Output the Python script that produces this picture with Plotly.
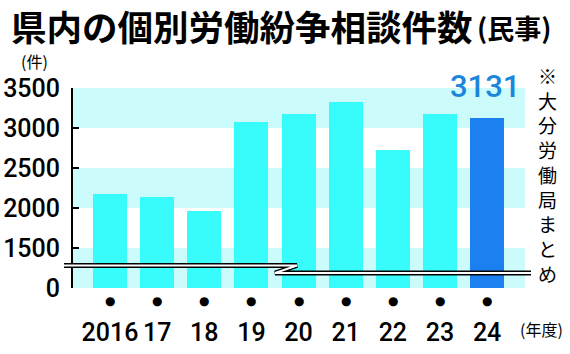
import plotly.graph_objects as go

categories = ["2016", "17", "18", "19", "20", "21", "22", "23", "24"]
values = [2175, 2140, 1960, 3075, 3175, 3330, 2725, 3175, 3131]
tick_values = [0, 1500, 2000, 2500, 3000, 3500]
tick_labels = ["0", "1500", "2000", "2500", "3000", "3500"]
note_text = "※大分労働局まとめ"

CYAN = "#38fbfb"
BLUE = "#1d80f0"
BAND = "#ccfbfb"
NUM_FONT = "Roboto"
JP_FONT = "Noto Sans CJK JP"


def disp(v):
    # broken axis: 0-1500 squeezed into one 500-unit step
    return v / 3.0 if v < 1500 else v - 1000.0


xs = list(range(len(categories)))
ys = [disp(v) for v in values]
colors = [CYAN] * (len(values) - 1) + [BLUE]

fig = go.Figure()
fig.add_trace(go.Bar(x=xs, y=ys, marker=dict(color=colors, line=dict(width=0)),
                     width=0.72, hoverinfo="skip"))

# background bands
for lo, hi in [(0, 1500), (2000, 2500), (3000, 3500)]:
    fig.add_shape(type="rect", xref="paper", yref="y", x0=0, x1=0.989,
                  y0=disp(lo), y1=disp(hi), fillcolor=BAND, line=dict(width=0),
                  layer="below")

# axis break mark (double line with zigzag)
def px(x):
    return (x - 73) / 457.0

def py(y):
    return (288 - y) / 200.0

path = (f"M {px(64)},{py(265.5)} L {px(297)},{py(265.5)} "
        f"L {px(275)},{py(273)} L {px(531)},{py(273)}")
fig.add_shape(type="path", xref="paper", yref="paper", path=path,
              line=dict(color="black", width=5))
fig.add_shape(type="path", xref="paper", yref="paper", path=path,
              line=dict(color="white", width=2))

# category dots below the axis
for x in xs:
    fig.add_annotation(xref="x", yref="paper", x=x, y=py(300.5), text="●",
                       showarrow=False, font=dict(size=12, color="black", family="DejaVu Sans"),
                       xanchor="center", yanchor="middle")

ann = []
ann.append(dict(text="<b>県内の個別労働紛争相談件数</b>", x=9, y=26, font=dict(size=35.5, family=JP_FONT, color="black", weight=900),
                xanchor="left"))
ann.append(dict(text="<b>(民事)</b>", x=475, y=27, font=dict(size=27, family=JP_FONT, color="black", weight=700),
                xanchor="left"))
ann.append(dict(text="(件)", x=34, y=61, font=dict(size=16, family=JP_FONT, color="black")))
ann.append(dict(text=f"{values[-1]}", x=485, y=86, font=dict(size=31, family=NUM_FONT, color="#1b86dc", weight=500)))
ann.append(dict(text="(年度)", x=541, y=329, font=dict(size=16, family=JP_FONT, color="black")))
ann.append(dict(text="<br>".join(note_text), x=547, y=174, font=dict(size=19, family=JP_FONT, color="black")))

for a in ann:
    fig.add_annotation(xref="paper", yref="paper", showarrow=False,
                       x=(a["x"] - 73) / 457.0, y=(288 - a["y"]) / 200.0,
                       text=a["text"], font=a["font"],
                       xanchor=a.get("xanchor", "center"), yanchor="middle")

fig.update_layout(
    width=570, height=354,
    margin=dict(l=73, r=40, t=88, b=66, autoexpand=False),
    paper_bgcolor="white", plot_bgcolor="white",
    showlegend=False,
    bargap=0,
    xaxis=dict(range=[-0.785, 8.91], tickvals=xs, ticktext=categories,
               showgrid=False, zeroline=False, showline=False, ticks="",
               tickangle=0, automargin=False,
               tickfont=dict(size=25, family=NUM_FONT, color="black", weight=500),
               ticklabelstandoff=27, fixedrange=True),
    yaxis=dict(range=[0, 2500], tickvals=[disp(v) for v in tick_values], ticktext=tick_labels,
               showgrid=False, zeroline=False, showline=True, linecolor="black", linewidth=2,
               ticks="inside", ticklen=6, tickwidth=2, tickcolor="black", automargin=False,
               tickfont=dict(size=25, family=NUM_FONT, color="black", weight=500),
               ticklabelstandoff=6, fixedrange=True),
)

fig.write_html("out.html")
